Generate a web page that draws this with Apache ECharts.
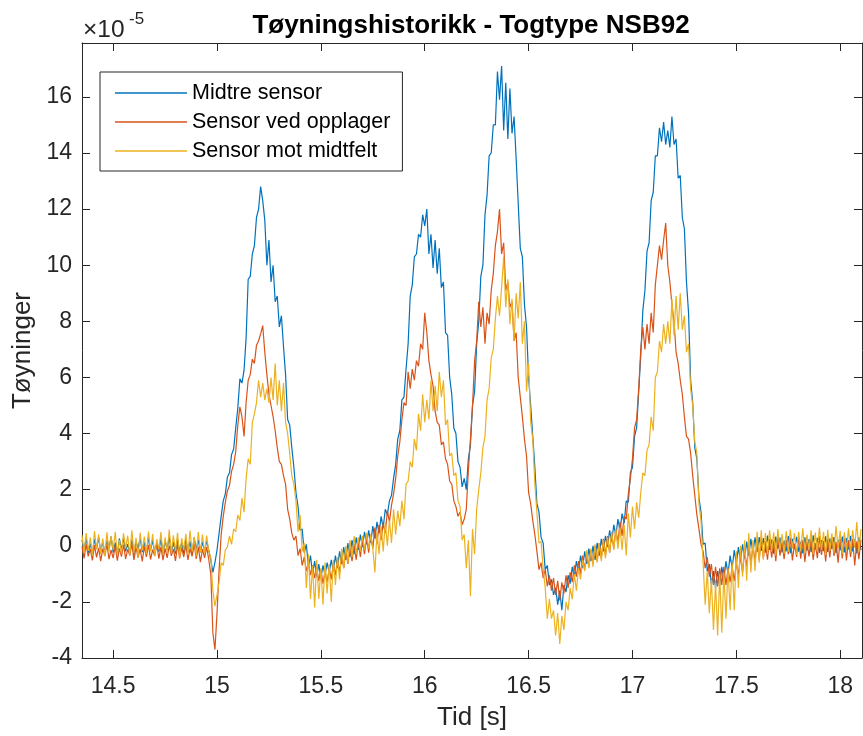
<!DOCTYPE html>
<html><head><meta charset="utf-8">
<script src="https://cdn.jsdelivr.net/npm/echarts@6/dist/echarts.min.js"></script>
<style>html,body{margin:0;padding:0;background:#fff}#chart{width:863px;height:736px}</style>
</head><body><div id="chart"></div>
<script>
// Sampling grid (s) and values in units of 1e-5
const timeStart = 14.35;
const timeStep = 0.01;
const seriesNames = ['Midtre sensor', 'Sensor ved opplager', 'Sensor mot midtfelt'];

const midtre = [
 0.21,-0.18,0.27,-0.25,0.08,-0.31,0.24,-0.12,0.30,-0.22,
 0.15,-0.28,0.19,-0.09,0.33,-0.24,0.11,-0.30,0.26,-0.15,
 0.29,-0.20,0.06,-0.27,0.22,-0.33,0.17,-0.11,0.28,-0.23,
 0.12,-0.29,0.31,-0.16,0.20,-0.26,0.09,-0.21,0.25,-0.30,
 0.18,-0.14,0.32,-0.25,0.13,-0.28,0.23,-0.19,0.10,-0.27,
 0.26,-0.22,0.16,-0.31,0.29,-0.12,0.21,-0.24,0.14,-0.20,
 0.18,-0.15,-0.50,-0.95,-0.60,-0.15,0.45,1.05,1.60,1.85,
 2.45,2.60,3.25,3.45,4.20,4.90,5.95,5.80,6.25,7.40,
 9.50,9.60,10.40,10.70,11.70,12.00,12.80,12.30,11.60,10.00,
 10.90,9.40,10.00,8.70,8.90,7.80,8.20,7.10,6.10,4.50,
 4.30,3.50,2.80,1.90,1.40,0.55,0.60,-0.25,0.05,-0.75,
 -0.35,-1.00,-0.55,-1.10,-0.65,-1.15,-0.70,-1.05,-0.60,-0.95,
 -0.50,-0.90,-0.35,-0.80,-0.20,-0.65,-0.05,-0.50,0.10,-0.40,
 0.20,-0.30,0.30,-0.15,0.40,-0.05,0.50,0.05,0.55,0.10,
 0.70,0.25,0.85,0.45,1.05,0.65,1.30,1.10,1.60,1.80,
 2.40,2.90,3.80,4.10,5.20,5.30,6.30,7.20,8.90,9.30,
 10.30,10.40,11.10,11.00,11.80,11.40,12.00,10.40,11.10,9.90,
 10.90,9.70,10.60,9.20,9.40,7.60,7.50,6.00,5.40,4.20,
 4.00,3.00,2.80,2.10,2.40,2.00,3.10,3.60,5.00,5.50,
 7.20,8.00,9.60,10.00,11.80,12.50,13.90,14.00,15.00,15.00,
 16.90,15.90,17.10,14.80,16.50,14.50,16.30,14.70,15.30,13.80,
 12.20,10.60,10.30,8.60,7.80,6.00,5.00,3.90,2.80,1.50,
 1.20,0.30,0.10,-0.85,-0.70,-1.40,-1.20,-1.75,-1.50,-2.10,
 -1.60,-2.30,-1.40,-1.65,-1.05,-1.35,-0.75,-1.10,-0.55,-0.95,
 -0.35,-0.80,-0.20,-0.65,-0.10,-0.55,0.00,-0.50,0.10,-0.35,
 0.25,-0.20,0.35,-0.05,0.55,0.15,0.75,0.35,0.95,0.55,
 1.15,0.80,1.60,1.55,2.60,2.80,3.90,4.20,5.50,6.80,
 8.40,9.10,10.50,10.80,12.30,12.60,13.90,13.90,14.90,14.40,
 15.10,14.30,14.80,14.20,15.30,14.30,14.50,13.10,13.20,11.70,
 11.30,9.40,8.30,5.90,5.10,3.50,3.10,1.70,1.20,0.05,
 0.10,-0.90,-0.65,-1.40,-0.90,-1.50,-0.90,-1.40,-0.75,-1.20,
 -0.55,-1.00,-0.35,-0.80,-0.15,-0.65,-0.05,-0.55,0.05,-0.45,
 0.15,-0.35,0.25,-0.25,0.30,-0.22,0.31,-0.18,0.27,-0.25,
 0.36,-0.15,0.22,-0.28,0.33,-0.10,0.29,-0.24,0.18,-0.20,
 0.35,-0.26,0.25,-0.12,0.32,-0.21,0.14,-0.27,0.30,-0.17,
 0.24,-0.23,0.37,-0.14,0.28,-0.25,0.20,-0.19,0.34,-0.22,
 0.26,-0.11,0.31,-0.26,0.21,-0.16,0.33,-0.24,0.27,-0.13,
 0.35,-0.20,0.23,-0.27,0.30,-0.15
];

const opplager = [
 -0.02,-0.45,0.05,-0.38,-0.12,-0.52,0.02,-0.41,-0.08,-0.55,
 -0.10,-0.36,0.06,-0.48,-0.15,-0.44,-0.01,-0.53,-0.09,-0.39,
 0.04,-0.47,-0.13,-0.35,0.08,-0.50,-0.06,-0.42,-0.11,-0.56,
 -0.03,-0.40,0.03,-0.49,-0.14,-0.37,0.07,-0.46,-0.05,-0.51,
 -0.09,-0.43,0.01,-0.36,-0.12,-0.54,0.05,-0.45,-0.07,-0.40,
 0.03,-0.50,-0.10,-0.38,0.06,-0.47,-0.04,-0.58,-0.12,-0.43,
 -0.05,-0.48,-1.00,-3.10,-3.70,-2.40,-0.85,0.40,1.05,1.55,
 1.95,2.15,2.65,2.90,3.35,4.30,4.95,4.60,3.90,5.10,
 5.90,6.10,6.65,6.50,7.15,7.30,7.55,7.85,6.90,6.10,
 5.40,5.00,4.60,4.10,3.50,3.00,2.90,2.50,2.20,1.30,
 0.95,0.45,0.20,0.35,-0.35,-0.10,-0.70,-0.40,-0.90,-0.60,
 -1.05,-0.70,-1.15,-0.80,-1.25,-0.85,-1.35,-0.90,-1.30,-0.80,
 -1.20,-0.65,-1.05,-0.50,-0.95,-0.35,-0.80,-0.20,-0.65,-0.10,
 -0.55,0.05,-0.50,0.15,-0.40,0.20,-0.30,0.30,-0.25,0.40,
 -0.10,0.65,0.05,0.75,0.20,0.80,0.45,1.25,0.85,1.45,
 1.85,2.40,3.20,3.70,4.50,5.10,5.00,6.20,5.60,6.30,
 5.90,6.60,6.40,7.20,7.00,8.30,7.60,6.60,6.10,5.70,
 4.80,4.40,4.30,3.60,3.70,3.10,2.90,2.30,2.20,1.60,
 1.40,1.05,1.20,0.75,0.95,1.30,2.70,3.80,5.00,6.60,
 7.30,8.70,7.80,8.50,7.20,8.30,7.90,9.10,9.70,10.70,
 11.20,12.00,10.40,10.80,9.10,9.40,8.50,8.70,7.30,7.60,
 6.00,5.30,4.60,3.80,3.20,1.90,1.50,0.90,0.40,-0.20,
 -0.85,-0.60,-1.15,-0.85,-1.45,-1.05,-1.60,-1.15,-1.75,-1.25,
 -1.95,-1.30,-1.70,-1.05,-1.50,-0.95,-1.30,-0.70,-1.10,-0.55,
 -1.00,-0.35,-0.85,-0.25,-0.75,-0.15,-0.65,0.00,-0.55,0.10,
 -0.45,0.25,-0.35,0.35,-0.25,0.45,-0.10,0.60,0.10,0.85,
 0.35,1.05,0.95,1.85,2.40,3.10,4.20,4.50,5.60,7.00,
 7.80,7.00,7.90,7.20,8.30,7.60,9.30,10.00,10.70,10.20,
 10.90,11.50,10.00,9.40,8.60,8.00,6.90,6.50,5.90,5.40,
 4.60,3.90,3.80,3.30,2.50,1.80,1.10,0.60,0.05,-0.20,
 -0.80,-0.40,-1.10,-0.65,-1.40,-0.75,-1.45,-0.80,-1.40,-0.75,
 -1.40,-0.80,-1.30,-0.75,-1.25,-0.60,-1.05,-0.35,-0.95,-0.20,
 -0.75,0.10,-0.65,0.00,-0.55,0.20,-0.50,0.30,-0.45,0.15,
 -0.50,0.25,-0.42,0.18,-0.55,0.30,-0.35,0.12,-0.48,0.22,
 -0.30,0.28,-0.52,0.08,-0.40,0.32,-0.46,0.20,-0.58,0.15,
 -0.38,0.26,-0.50,0.10,-0.44,0.34,-0.33,0.18,-0.56,0.24,
 -0.42,0.30,-0.36,0.14,-0.60,0.27,-0.45,0.36,-0.52,0.20,
 -0.40,0.25,-0.70,0.16,-0.48,0.22
];

const midtfelt = [
 0.38,-0.25,0.45,-0.18,0.30,-0.35,0.52,-0.12,0.41,-0.30,
 0.26,-0.38,0.48,-0.22,0.35,-0.15,0.50,-0.32,0.20,-0.28,
 0.44,-0.10,0.36,-0.34,0.55,-0.26,0.28,-0.40,0.47,-0.17,
 0.33,-0.29,0.51,-0.20,0.42,-0.36,0.24,-0.14,0.49,-0.31,
 0.30,-0.23,0.58,-0.27,0.37,-0.19,0.46,-0.42,0.27,-0.16,
 0.43,-0.33,0.54,-0.21,0.32,-0.37,0.50,-0.24,0.40,-0.28,
 0.36,-0.20,-0.40,-1.60,-2.15,-1.75,-1.30,-0.60,-0.70,-0.15,
 -0.05,0.35,0.05,0.60,0.50,1.10,0.90,1.70,1.20,2.40,
 3.10,2.90,4.40,4.70,5.10,5.90,5.30,5.80,5.20,5.60,
 5.10,6.00,5.20,6.50,5.00,5.90,4.80,5.80,4.40,4.00,
 3.30,2.50,2.20,1.60,0.50,1.10,-0.20,0.10,-1.50,-0.30,
 -1.90,-0.70,-2.20,-0.50,-1.90,-0.80,-2.10,-0.60,-1.70,-0.65,
 -2.00,-0.50,-1.40,-0.40,-1.20,-0.10,-0.80,0.00,-0.60,0.20,
 -0.40,0.35,-0.30,0.30,-0.20,0.35,-0.15,0.45,-0.10,0.40,
 -0.10,-0.95,0.50,-0.30,0.70,-0.20,0.85,0.00,0.90,0.10,
 1.30,0.40,1.25,0.70,1.60,0.95,2.20,2.30,3.00,2.80,
 3.80,3.40,4.70,4.10,5.40,4.40,5.20,4.50,5.90,4.80,
 5.70,4.80,6.20,5.30,5.90,4.30,4.50,3.20,3.30,2.50,
 2.60,1.60,1.40,0.20,0.40,-0.80,0.20,-1.80,0.60,-0.30,
 1.30,2.00,2.60,3.50,3.90,5.20,5.60,6.70,7.00,8.10,
 8.90,8.20,9.20,10.30,8.50,9.50,7.90,8.80,7.30,9.00,
 8.10,9.40,7.20,8.00,5.50,6.50,4.40,3.80,2.20,1.20,
 0.10,0.15,-0.80,-1.50,-2.60,-1.90,-2.60,-2.30,-3.20,-2.40,
 -3.50,-2.50,-3.00,-2.00,-2.30,-1.50,-1.90,-1.00,-1.60,-0.80,
 -1.20,-0.50,-0.90,-0.15,-0.80,-0.10,-0.75,0.05,-0.60,0.10,
 -0.55,0.20,-0.45,0.30,-0.25,0.50,-0.15,0.60,-0.10,0.65,
 -0.15,0.75,-0.35,1.15,0.30,1.40,0.60,1.55,1.00,1.90,
 2.60,2.50,3.40,3.60,4.60,4.10,6.00,6.20,7.30,6.90,
 7.90,7.20,8.00,7.20,8.80,7.50,8.90,7.70,9.00,7.70,
 8.20,6.90,7.20,5.60,5.00,3.70,3.30,1.50,0.90,-0.60,
 -2.10,-0.90,-2.40,-1.20,-3.00,-1.30,-3.20,-1.00,-3.10,-0.95,
 -2.60,-0.80,-2.30,-0.60,-2.30,-0.20,-1.50,0.00,-1.10,0.20,
 -1.25,0.45,-0.95,0.20,-0.90,0.50,-0.60,0.55,-0.50,0.45,
 -0.30,0.55,-0.20,0.48,-0.35,0.60,-0.15,0.42,-0.28,0.52,
 -0.22,0.58,-0.10,0.45,-0.32,0.50,-0.18,0.62,-0.25,0.40,
 -0.12,0.55,-0.30,0.47,-0.20,0.65,-0.14,0.50,-0.33,0.57,
 -0.18,0.44,-0.26,0.70,-0.10,0.53,-0.30,0.48,-0.16,0.62,
 -0.24,0.56,-0.08,0.85,-0.20,0.60
];

const xTicks = [14.5, 15, 15.5, 16, 16.5, 17, 17.5, 18];
const yTicks = [-4, -2, 0, 2, 4, 6, 8, 10, 12, 14, 16];
const xRange = [14.35, 18.105];
const yRange = [-4, 17.92];
const colors = ['#0072BD', '#D95319', '#EDB120'];

const FONT = '"Liberation Sans", Arial, Helvetica, sans-serif';
const AX = '#262626';

function toPairs(vals) {
  return vals.map((v, i) => [Math.round((timeStart + i * timeStep) * 1000) / 1000, v]);
}

const chart = echarts.init(document.getElementById('chart'), null, { renderer: 'canvas' });

function axisCommon(extra) {
  return Object.assign({
    type: 'value',
    axisLine: { show: true, onZero: false, lineStyle: { color: AX, width: 1 } },
    splitLine: { show: false }
  }, extra);
}

const option = {
  animation: false,
  backgroundColor: '#ffffff',
  color: colors,
  title: {
    text: 'Tøyningshistorikk - Togtype NSB92',
    left: 466, top: 8, textAlign: 'center',
    textStyle: { fontFamily: FONT, fontWeight: 'bold', fontSize: 26, color: '#000' }
  },
  grid: { left: 82, right: 1, top: 43, height: 616, containLabel: false },
  legend: {
    orient: 'vertical', left: 100, top: 72,
    data: seriesNames,
    icon: 'rect',
    itemWidth: 72, itemHeight: 1.3, itemGap: 7,
    padding: [10, 12, 9, 15],
    borderColor: AX, borderWidth: 1, backgroundColor: '#fff',
    textStyle: { fontFamily: FONT, fontSize: 21.5, lineHeight: 22, color: '#000' }
  },
  xAxis: [
    axisCommon({
      position: 'bottom', min: xRange[0], max: xRange[1],
      axisTick: { show: true, inside: true, length: 8, customValues: xTicks, lineStyle: { color: AX } },
      axisLabel: { show: true, customValues: xTicks, margin: 17, fontSize: 23, color: AX, fontFamily: FONT },
      name: 'Tid [s]', nameLocation: 'middle', nameGap: 47,
      nameTextStyle: { fontSize: 26, color: AX, fontFamily: FONT }
    }),
    axisCommon({
      position: 'top', min: xRange[0], max: xRange[1],
      axisTick: { show: true, inside: true, length: 8, customValues: xTicks, lineStyle: { color: AX } },
      axisLabel: { show: false }
    })
  ],
  yAxis: [
    axisCommon({
      position: 'left', min: yRange[0], max: yRange[1],
      axisTick: { show: true, inside: true, length: 8, customValues: yTicks, lineStyle: { color: AX } },
      axisLabel: { show: true, customValues: yTicks, margin: 10, fontSize: 23, color: AX, fontFamily: FONT },
      name: 'Tøyninger', nameLocation: 'middle', nameGap: 46, nameRotate: 90,
      nameTextStyle: { fontSize: 26, color: AX, fontFamily: FONT }
    }),
    axisCommon({
      position: 'right', min: yRange[0], max: yRange[1],
      axisTick: { show: true, inside: true, length: 8, customValues: yTicks, lineStyle: { color: AX } },
      axisLabel: { show: false }
    })
  ],
  graphic: [
    { type: 'text', left: 83, top: 18, style: { text: '×10', font: '24.5px "Liberation Sans", Arial, sans-serif', fill: AX } },
    { type: 'text', left: 129, top: 11, style: { text: '-5', font: '17px "Liberation Sans", Arial, sans-serif', fill: AX } }
  ],
  series: [
    { name: seriesNames[0], type: 'line', data: toPairs(midtre), symbol: 'none', showSymbol: false, sampling: null, lineStyle: { width: 1.2, color: colors[0] }, itemStyle: { color: colors[0] }, xAxisIndex: 0, yAxisIndex: 0 },
    { name: seriesNames[1], type: 'line', data: toPairs(opplager), symbol: 'none', showSymbol: false, sampling: null, lineStyle: { width: 1.2, color: colors[1] }, itemStyle: { color: colors[1] }, xAxisIndex: 0, yAxisIndex: 0 },
    { name: seriesNames[2], type: 'line', data: toPairs(midtfelt), symbol: 'none', showSymbol: false, sampling: null, lineStyle: { width: 1.2, color: colors[2] }, itemStyle: { color: colors[2] }, xAxisIndex: 0, yAxisIndex: 0 }
  ]
};
chart.setOption(option);
</script>
</body></html>
